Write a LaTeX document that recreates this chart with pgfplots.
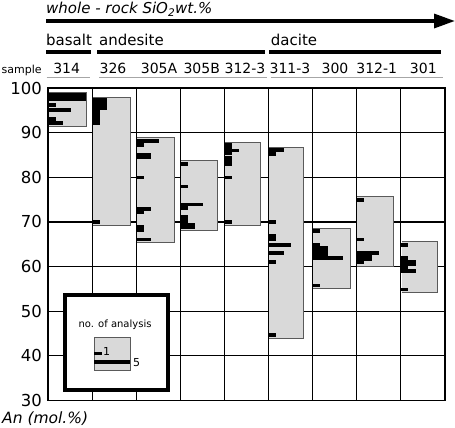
\documentclass[border=0pt]{standalone}
\usepackage{fontspec}
\setmainfont{DejaVu Sans}
\usepackage{pgfplots}
\pgfplotsset{compat=1.18}
\usepackage{pgfplotstable}
\definecolor{boxgray}{HTML}{D9D9D9}
\definecolor{boxedge}{HTML}{5A5A5A}
\newcommand\fs[1]{\fontsize{#1bp}{#1bp}\selectfont}

% horizontal bar mark: starts at the data point, length = \nn counts (7.5bp each)
\pgfdeclareplotmark{hbar}{%
  \pgfpathrectangle{\pgfpoint{0pt}{-1.7bp}}{\pgfpoint{\nn*7.5bp}{3.4bp}}%
  \pgfusepath{fill}}

% An (mol.%) histogram bars: column index, An value, number of analyses
\pgfplotstableread{
x y n
0 98.6 5
0 98.0 5
0 97.4 5
0 96.2 1
0 95.1 3
0 93.1 1
0 92.2 2
1 97.3 2
1 96.7 2
1 96.1 2
1 95.5 2
1 94.8 1
1 94.2 1
1 93.5 1
1 92.9 1
1 92.2 1
1 70.0 1
2 88.1 3
2 87.2 1
2 85.1 2
2 84.4 2
2 80.0 1
2 72.9 2
2 72.1 1
2 69.0 1
2 68.2 1
2 66.0 2
3 83.0 1
3 78.0 1
3 73.9 3
3 73.1 1
3 71.1 1
3 70.2 1
3 69.4 2
3 68.7 2
4 87.3 1
4 86.7 1
4 86.0 2
4 85.3 1
4 84.5 1
4 83.8 1
4 83.0 1
4 80.0 1
4 70.0 1
5 86.1 2
5 85.2 1
5 70.0 1
5 66.9 1
5 66.2 1
5 64.8 3
5 63.0 2
5 61.0 1
5 44.7 1
6 68.0 1
6 65.0 1
6 64.2 2
6 63.5 2
6 62.8 2
6 61.9 4
6 55.7 1
7 74.9 1
7 66.0 1
7 63.0 3
7 62.4 2
7 61.7 2
7 60.9 1
8 64.8 1
8 61.9 1
8 61.1 2
8 60.4 2
8 59.7 1
8 59.0 2
8 54.8 1
}\bars

\pgfplotstableread{
x y n
1.043 40.58 1
1.043 38.63 4.85
}\legbars

\newcommand\samplebox[4]{%
 \addplot[fill=boxgray, draw=none] coordinates {(#1,#3) (#2,#3) (#2,#4) (#1,#4)} -- cycle;
 \addplot[boxedge, line width=0.9bp] coordinates {(#1,#3) (#2,#3) (#2,#4) (#1,#4)};
}

\begin{document}
\begin{tikzpicture}
\useasboundingbox (0,0) rectangle (455bp,-428bp);
\begin{axis}[
  at={(48bp,-400.5bp)}, anchor=south west,
  width=397bp, height=312.5bp, scale only axis,
  xmin=0, xmax=9, ymin=30, ymax=100,
  xtick={0,...,9}, xticklabels={},
  ytick={30,40,...,100},
  grid=major,
  grid style={black, line width=1.2bp},
  major tick length=0pt,
  axis line style={black, line width=1.4bp},
  /pgf/number format/assume math mode=true,
  yticklabel style={font=\fs{16.5}, xshift=-2.5bp},
  hbars/.style={only marks, mark=hbar, black,
    mark options={fill=black, draw=none},
    visualization depends on={\thisrow{n} \as \nn}},
]
\samplebox{0.014}{0.87}{91.3}{99.0}
\samplebox{1.014}{1.88}{69.3}{97.9}
\samplebox{2.014}{2.87}{65.3}{88.9}
\samplebox{3.014}{3.84}{68.2}{83.7}
\samplebox{4.014}{4.82}{69.2}{87.8}
\samplebox{5.014}{5.80}{43.9}{86.7}
\samplebox{6.014}{6.85}{55.1}{68.6}
\samplebox{7.014}{7.83}{60.0}{75.7}
\samplebox{8.014}{8.83}{54.1}{65.6}

\addplot[hbars] table[x=x, y=y] {\bars};

% legend
\addplot[fill=white, draw=black, line width=3.3bp, line join=miter] coordinates {(0.385,32.36) (2.72,32.36) (2.72,53.64) (0.385,53.64)} -- cycle;
\addplot[fill=boxgray, draw=boxedge, line width=0.9bp] coordinates {(1.043,36.77) (1.859,36.77) (1.859,44.16) (1.043,44.16)} -- cycle;
\addplot[hbars] table[x=x, y=y] {\legbars};
\node[font=\fs{10}] at (axis cs:1.519,47.08) {no. of analysis};
\node[font=\fs{11}] at (axis cs:1.33,40.9) {1};
\node[font=\fs{11}] at (axis cs:2.01,38.4) {5};
\end{axis}

% header
\node[anchor=base west, font=\fs{15}\itshape, inner sep=0pt] at (46bp,-13.5bp) {whole - rock SiO\textsubscript{2}wt.\%};
\draw[line width=4.5bp] (46bp,-21bp) -- (437bp,-21bp);
\fill (434bp,-13.5bp) -- (454.5bp,-21bp) -- (434bp,-28.5bp) -- cycle;

\node[anchor=base west, font=\fs{15}, inner sep=0pt] at (46bp,-45bp) {basalt};
\node[anchor=base west, font=\fs{15}, inner sep=0pt] at (99bp,-45bp) {andesite};
\node[anchor=base west, font=\fs{15}, inner sep=0pt] at (270.7bp,-45bp) {dacite};
\draw[line width=4.3bp] (46bp,-52bp) -- (91bp,-52bp);
\draw[line width=4.3bp] (97.3bp,-52bp) -- (265bp,-52bp);
\draw[line width=4.3bp] (269.3bp,-52bp) -- (441bp,-52bp);

\node[anchor=base west, font=\fs{11}, inner sep=0pt] at (1.5bp,-73bp) {sample};
\foreach \xx/\lab in {66.7/314, 113/326, 159/305A, 201.7/305B, 245/312-3, 290/311-3, 335/300, 376.7/312-1, 423.3/301}
  \node[anchor=base, font=\fs{14}, inner sep=0pt] at (\xx bp,-73.3bp) {\lab};
\draw[gray!70, line width=0.8bp] (46.7bp,-77.5bp) -- (90bp,-77.5bp);
\draw[gray!70, line width=0.8bp] (99bp,-77.5bp) -- (266.7bp,-77.5bp);
\draw[gray!70, line width=0.8bp] (270.7bp,-77.5bp) -- (443bp,-77.5bp);

\node[anchor=base west, font=\fs{15.5}\itshape, inner sep=0pt] at (2bp,-423bp) {An (mol.\%)};
\end{tikzpicture}
\end{document}
